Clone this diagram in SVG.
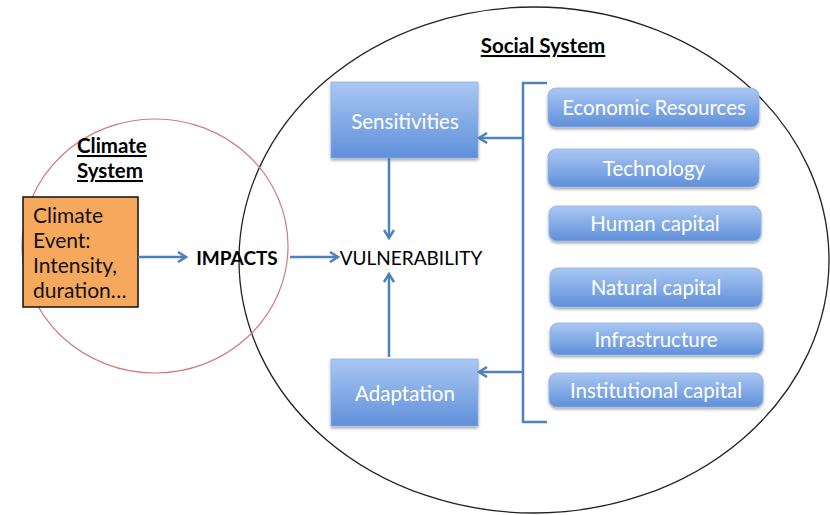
<svg xmlns="http://www.w3.org/2000/svg" width="830" height="515" viewBox="0 0 830 515">
<defs>
<linearGradient id="blueGrad" x1="0" y1="0" x2="0" y2="1">
<stop offset="0" stop-color="#aac7f3"/>
<stop offset="1" stop-color="#5f90da"/>
</linearGradient>
<filter id="shadow" x="-10%" y="-10%" width="130%" height="140%">
<feGaussianBlur in="SourceAlpha" stdDeviation="1.5"/>
<feOffset dx="0" dy="2" result="b"/>
<feComponentTransfer><feFuncA type="linear" slope="0.35"/></feComponentTransfer>
<feMerge><feMergeNode/><feMergeNode in="SourceGraphic"/></feMerge>
</filter>
<marker id="arrow" markerWidth="12" markerHeight="12" refX="10" refY="6" orient="auto" markerUnits="userSpaceOnUse">
<path d="M2,1 L10,6 L2,11" fill="none" stroke="#4f81bd" stroke-width="2.5" stroke-linejoin="miter"/>
</marker>
</defs>
<style>
.lbl{font-family:Lato,"Open Sans","Liberation Sans",sans-serif;}
.white{fill:#ffffff;font-size:20.5px;text-anchor:middle;}
.box{fill:url(#blueGrad);stroke:#8fb0e0;stroke-width:0.8;filter:url(#shadow);}
.conn{fill:none;stroke:#4f81bd;stroke-width:2.5;}
.title{font-size:20.5px;font-weight:bold;text-decoration:underline;fill:#000;}
.ev{font-size:21px;fill:#111;}
</style>
<rect width="830" height="515" fill="#ffffff"/>

<g id="social-system">
<ellipse cx="534" cy="260" rx="295" ry="253" fill="none" stroke="#222" stroke-width="1.3"/>
<text class="lbl title" x="543" y="53" text-anchor="middle" font-size="21">Social System</text>
</g>

<g id="climate-system">
<ellipse cx="155" cy="246" rx="133" ry="127" fill="none" stroke="#d07c7c" stroke-width="1.2"/>
<text class="lbl title" x="77" y="153">Climate</text>
<text class="lbl title" x="77" y="178">System</text>
</g>

<g id="climate-event">
<rect x="23" y="197" width="115" height="110" fill="#f6a95d" stroke="#111" stroke-width="1.5"/>
<text class="lbl ev" x="33" y="223">Climate</text>
<text class="lbl ev" x="33" y="248">Event:</text>
<text class="lbl ev" x="33" y="273">Intensity,</text>
<text class="lbl ev" x="33" y="298">duration…</text>
</g>

<g id="impacts">
<text class="lbl" font-size="19" font-weight="bold" fill="#000" x="237" y="265" text-anchor="middle">IMPACTS</text>
</g>

<g id="vulnerability">
<text class="lbl" font-size="19" fill="#000" x="411" y="265" text-anchor="middle">VULNERABILITY</text>
</g>

<g id="sensitivities">
<rect class="box" x="331" y="82" width="147" height="76"/>
<text class="lbl white" x="405" y="129">Sensitivities</text>
</g>

<g id="adaptation">
<rect class="box" x="331" y="359" width="147" height="67"/>
<text class="lbl white" x="405" y="401">Adaptation</text>
</g>

<g id="economic-resources">
<rect class="box" x="548" y="88" width="211" height="39" rx="8"/>
<text class="lbl white" x="654" y="115">Economic Resources</text>
</g>
<g id="technology">
<rect class="box" x="548" y="149" width="211" height="38" rx="8"/>
<text class="lbl white" x="654" y="176">Technology</text>
</g>
<g id="human-capital">
<rect class="box" x="549" y="206" width="212" height="35" rx="8"/>
<text class="lbl white" x="655" y="231">Human capital</text>
</g>
<g id="natural-capital">
<rect class="box" x="550" y="268" width="212" height="39" rx="8"/>
<text class="lbl white" x="656" y="295">Natural capital</text>
</g>
<g id="infrastructure">
<rect class="box" x="550" y="323" width="213" height="32" rx="8"/>
<text class="lbl white" x="656" y="347">Infrastructure</text>
</g>
<g id="institutional-capital">
<rect class="box" x="549" y="373" width="214" height="34" rx="8"/>
<text class="lbl white" x="656" y="398">Institutional capital</text>
</g>

<g id="connectors">
<line class="conn" x1="138" y1="257" x2="186" y2="257" marker-end="url(#arrow)"/>
<line class="conn" x1="290" y1="257" x2="338" y2="257" marker-end="url(#arrow)"/>
<line class="conn" x1="389" y1="158" x2="389" y2="238" marker-end="url(#arrow)"/>
<line class="conn" x1="389" y1="357" x2="389" y2="274" marker-end="url(#arrow)"/>
<path class="conn" d="M547,83 L523,83 L523,422 L547,422"/>
<line class="conn" x1="523" y1="138" x2="479" y2="138" marker-end="url(#arrow)"/>
<line class="conn" x1="523" y1="372" x2="479" y2="372" marker-end="url(#arrow)"/>
</g>
</svg>
